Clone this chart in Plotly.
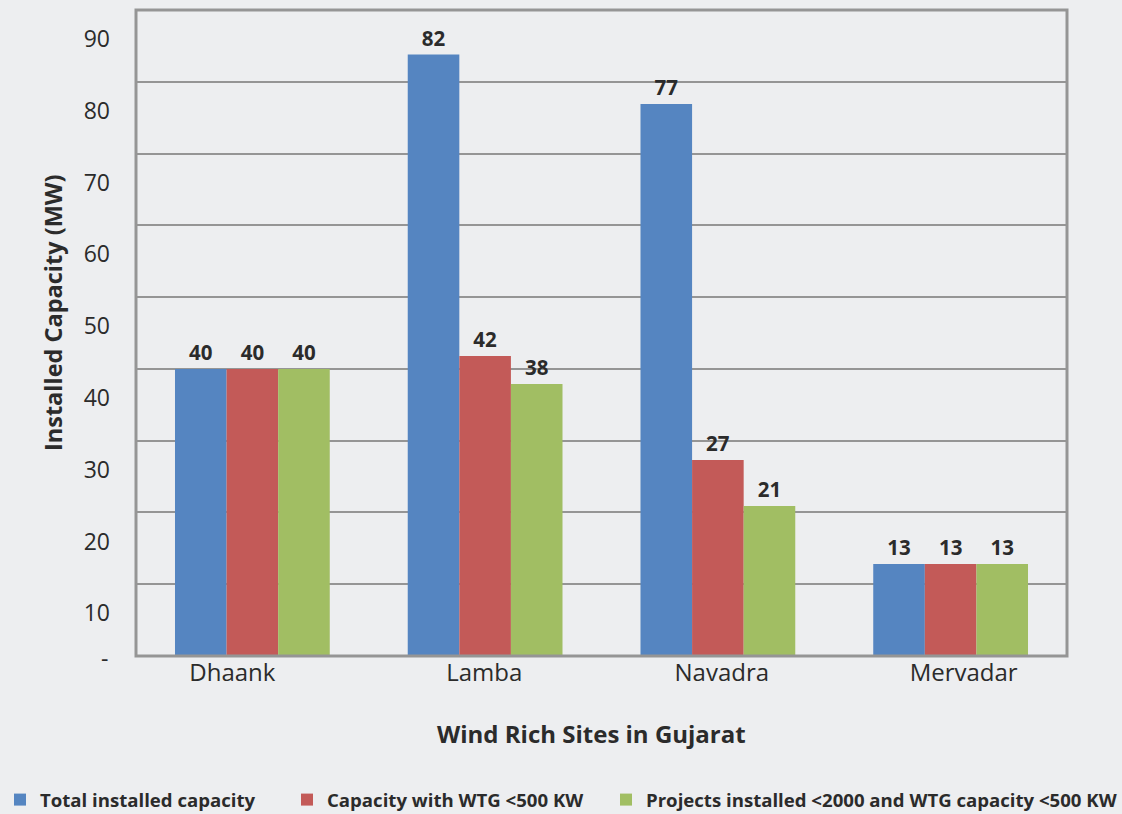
import plotly.graph_objects as go

sites = ["Dhaank", "Lamba", "Navadra", "Mervadar"]
series_names = [
    "Total installed capacity",
    "Capacity with WTG <500 KW",
    "Projects installed <2000 and WTG capacity <500 KW",
]
total_vals = [40, 83.8, 76.9, 12.8]
wtg500_vals = [40, 41.8, 27.3, 12.8]
proj_vals = [40, 37.9, 20.9, 12.8]
total_labels = ["40", "82", "77", "13"]
wtg500_labels = ["40", "42", "27", "13"]
proj_labels = ["40", "38", "21", "13"]
y_tick_vals = [10, 20, 30, 40, 50, 60, 70, 80, 90]
y_tick_text = ["10", "20", "30", "40", "50", "60", "70", "80", "90"]
x_title = "Wind Rich Sites in Gujarat"
y_title = "Installed Capacity (MW)"

colors = ["#5585C1", "#C35A58", "#A1BE63"]
BG = "#EDEEF0"
FONT = "Open Sans"
TXT = "#2B2B2B"

W, H = 1122, 814
L, R, T, B = 136, 55, 10, 158
PW, PH = W - L - R, H - T - B

fig = go.Figure()
all_vals = [total_vals, wtg500_vals, proj_vals]
all_labels = [total_labels, wtg500_labels, proj_labels]
legend_ids = ["legend", "legend2", "legend3"]
for i in range(3):
    fig.add_trace(go.Bar(
        x=sites, y=all_vals[i], name=series_names[i],
        marker=dict(color=colors[i], line=dict(width=0)),
        text=all_labels[i], textposition="outside",
        textfont=dict(family=FONT, size=20.5, color=TXT, weight="bold"),
        cliponaxis=False,
        legend=legend_ids[i],
        showlegend=True,
    ))

def px_x(px):
    return (px - L) / PW

def px_y(py):
    return (H - B - py) / PH

# small per-label offsets (fraction of a category) to mimic label placement
label_offsets = [-0.086, -0.004, 0.017, 0.056]

legend_common = dict(
    orientation="h", yanchor="middle", xanchor="left",
    xref="container", yref="container",
    y=1 - 800 / H,
    bgcolor="rgba(0,0,0,0)",
    font=dict(family=FONT, size=18.6, color=TXT, weight="bold"),
)
fig.update_layout(
    width=W, height=H,
    margin=dict(l=L, r=R, t=T, b=B, autoexpand=False),
    paper_bgcolor=BG, plot_bgcolor=BG,
    barmode="group", bargap=0.335, bargroupgap=0,
    font=dict(family=FONT, color=TXT),
    showlegend=True,
    legend=dict(x=-6 / W, **legend_common),
    legend2=dict(x=287 / W, **legend_common),
    legend3=dict(x=606 / W, **legend_common),
    xaxis=dict(
        showgrid=False, showline=False, ticks="",
        tickmode="array",
        tickvals=[i + off for i, off in enumerate(label_offsets)],
        ticktext=sites,
        tickfont=dict(family=FONT, size=24, color=TXT),
    ),
    yaxis=dict(
        range=[0, 90], tickvals=y_tick_vals, ticktext=y_tick_text,
        showgrid=True, gridcolor="#959595", gridwidth=2,
        showline=False, ticks="", zeroline=False,
        tickfont=dict(family=FONT, size=23, color=TXT),
        ticklabelshift=29, ticklabelstandoff=25,
    ),
    shapes=[dict(type="rect", xref="paper", yref="paper", x0=0, x1=1, y0=0, y1=1,
                 line=dict(color="#959595", width=3), layer="above")],
    annotations=[
        dict(text="-", xref="paper", yref="y", x=px_x(110), y=0,
             xanchor="right", yanchor="middle", yshift=-2, showarrow=False,
             font=dict(family=FONT, size=23, color=TXT)),
        dict(text=f"<b>{x_title}</b>", xref="paper", yref="paper",
             x=px_x(591), y=px_y(733), xanchor="center", yanchor="middle",
             showarrow=False, font=dict(family=FONT, size=24, color=TXT)),
        dict(text=f"<b>{y_title}</b>", xref="paper", yref="paper",
             x=px_x(53), y=px_y(313), xanchor="center", yanchor="middle",
             textangle=-90, showarrow=False,
             font=dict(family=FONT, size=23.5, color=TXT)),
    ],
)

fig.write_html("out.html", config={"displayModeBar": False},
               post_script="document.body.style.margin='0';document.body.style.padding='0';")
